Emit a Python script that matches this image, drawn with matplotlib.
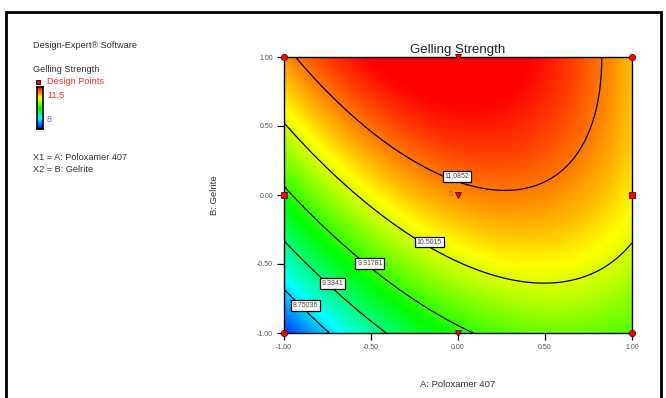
import numpy as np
import matplotlib.pyplot as plt
from matplotlib.colors import LinearSegmentedColormap
from matplotlib.patches import Rectangle

plt.rcParams['font.family'] = ['Liberation Sans', 'DejaVu Sans']

# quadratic model: b0, A, B, AB, A^2, B^2
coef = [11.0004, 0.4212, 0.9104, -0.5018, -0.7489, -0.2479]
levels = [8.75036, 9.3341, 9.91781, 10.5015, 11.0852]
level_txt = ['8.75036', '9.3341', '9.91781', '10.5015', '11.0852']
# label spots (A, B)
lab_a = [-0.875, -0.722, -0.506, -0.165, -0.004]
lab_b = [-0.802, -0.643, -0.495, -0.341, 0.133]

# design points
dp_a = [-1, 1, -1, 1, -1, 1, 0, 0, 0]
dp_b = [-1, -1, 1, 1, 0, 0, -1, 1, 0]
dp_m = ['o', 'o', 'o', 'o', 's', 's', 'v', 'v', 'v']
zmin, zmax = 8, 11.5

cmap = LinearSegmentedColormap.from_list('de', ['#0000ff', '#00ffff', '#00ff00', '#ffff00', '#ff0000'])

a = np.linspace(-1, 1, 300)
A, B = np.meshgrid(a, a)
Z = coef[0] + coef[1]*A + coef[2]*B + coef[3]*A*B + coef[4]*A**2 + coef[5]*B**2

fig = plt.figure(figsize=(6.66, 3.98), dpi=100)
ax = fig.add_axes([284/666, 1-333/398, 348/666, 276/398])
ax.imshow(Z, extent=[-1, 1, -1, 1], origin='lower', cmap=cmap, vmin=zmin, vmax=zmax,
          aspect='auto', interpolation='bilinear')
ax.contour(A, B, Z, levels=levels, colors='black', linewidths=0.9)
for x, y, t in zip(lab_a, lab_b, level_txt):
    ax.text(x, y, t, fontsize=5, ha='center', va='center', color='#444444',
            bbox=dict(boxstyle='square,pad=0.25', fc='white', ec='black', lw=0.9))
for x, y, m in zip(dp_a, dp_b, dp_m):
    ax.plot(x, y, marker=m, ms=4.5, color='red', mec='#600000', mew=0.6, clip_on=False, zorder=5)
ax.text(-0.03, 0.0, '5', fontsize=5.5, color='#b06000', ha='right', va='center')

ax.set_xlim(-1, 1)
ax.set_ylim(-1, 1)
ticks = [-1, -0.5, 0, 0.5, 1]
ax.set_xticks(ticks)
ax.set_yticks(ticks)
ax.set_xticklabels(['%.2f' % t for t in ticks])
ax.set_yticklabels(['%.2f' % t for t in ticks])
ax.tick_params(direction='out', length=5, width=0.9, labelsize=5, labelcolor='#555555', pad=3)
for s in ax.spines.values():
    s.set_linewidth(1.0)
ax.set_title('Gelling Strength', fontsize=9.5, color='#222222', pad=3)
ax.set_xlabel('A: Poloxamer 407', fontsize=6.8, color='#333333', labelpad=21)
ax.set_ylabel('B: Gelrite', fontsize=6.8, color='#333333', labelpad=27)

# left legend block
def fx(px): return px/666
def fy(py): return 1-py/398
fs = 6.6
fig.text(fx(33), fy(45), 'Design-Expert\u00ae Software', fontsize=fs, va='center', color='#333333')
fig.text(fx(33), fy(70), 'Gelling Strength', fontsize=fs, va='center', color='#333333')
fig.text(fx(47), fy(82), 'Design Points', fontsize=fs, va='center', color='#ff3030')
fig.text(fx(47), fy(95), '%g' % zmax, fontsize=fs, va='center', color='#ff3030')
fig.text(fx(47), fy(120), '%g' % zmin, fontsize=fs, va='center', color='#6060ff')
fig.text(fx(33), fy(157), 'X1 = A: Poloxamer 407', fontsize=fs, va='center', color='#333333')
fig.text(fx(33), fy(169), 'X2 = B: Gelrite', fontsize=fs, va='center', color='#333333')
fig.lines.append(plt.Line2D([fx(38)], [fy(82)], marker='s', ms=3.5, color='red', mec='black',
                            mew=0.6, transform=fig.transFigure, figure=fig))
cax = fig.add_axes([fx(37), fy(129), 6/666, 42/398])
cax.imshow(np.linspace(zmin, zmax, 100).reshape(-1, 1), origin='lower', cmap=cmap, aspect='auto',
           extent=[0, 1, 0, 1])
cax.set_xticks([])
cax.set_yticks([])
for s in cax.spines.values():
    s.set_linewidth(1.2)

fig.patches.append(Rectangle((fx(6), fy(420)), fx(655), 408/398, fill=False, ec='black', lw=2,
                             transform=fig.transFigure, figure=fig))
fig.savefig('out.png', dpi=100)
